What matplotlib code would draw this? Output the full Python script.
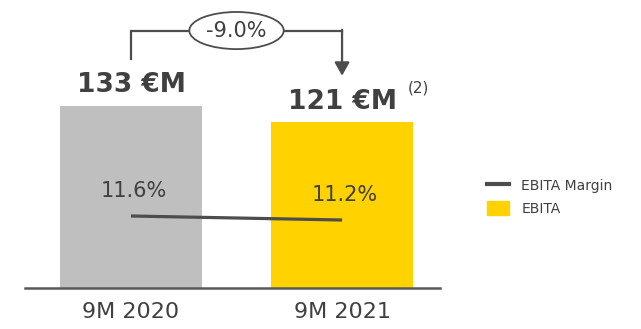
import matplotlib.pyplot as plt
import matplotlib.lines as mlines
import matplotlib.patches as mpatches

periods = ["9M 2020", "9M 2021"]
ebita = [133, 121]            # EUR millions
margin = [11.6, 11.2]         # EBITA margin, %
change_label = "-9.0%"

bar_colors = ["#BFBFBF", "#FFD200"]
line_color = "#4D4D4D"
text_color = "#404040"

fig = plt.figure(figsize=(6.41, 3.29), dpi=100)
ax = fig.add_axes([25 / 641, 41 / 329, 415 / 641, 278 / 329])
ax2 = ax.twinx()

x = list(range(len(periods)))
ax.bar(x, ebita, width=0.673, color=bar_colors, zorder=1)
ax.set_xlim(-0.502, 1.464)
ax.set_ylim(0, 203)

ax2.plot(x, margin, color=line_color, lw=2.3, solid_capstyle="butt", zorder=3)
ax2.set_ylim(4.4, 32.2)

for xi, m in zip(x, margin):
    ax2.annotate(f"{m:.1f}%", (xi, m), xytext=(2, 18), textcoords="offset points",
                 ha="center", va="center", fontsize=15, color=text_color)

# value labels above the bars
for xi, v in zip(x, ebita):
    ax.text(xi, v + 15, f"{v} €M", ha="center", va="center", fontsize=19,
            fontweight="bold", color=text_color)
ax.annotate("(2)", (1, ebita[1] + 15), xytext=(55, 10), textcoords="offset points",
            ha="center", va="center", fontsize=11, color=text_color)

# change bracket with arrow
y_top = ebita[0] + 55
ax.plot([0, 0, 1, 1], [ebita[0] + 34, y_top, y_top, y_top], color=line_color,
        lw=1.6, solid_joinstyle="miter", zorder=2)
ax.annotate("", xy=(1, ebita[1] + 34), xytext=(1, y_top + 0.6),
            arrowprops=dict(arrowstyle="-|>,head_length=0.8,head_width=0.45",
                            color=line_color, lw=1.6, shrinkA=0, shrinkB=0))
ax.text(0.5, y_top, change_label, ha="center", va="center", fontsize=15,
        color=text_color, zorder=4,
        bbox=dict(boxstyle="ellipse,pad=0.15", fc="white", ec=line_color, lw=1.3))

ax.set_xticks(x)
ax.set_xticklabels(periods, fontsize=16, color=text_color)
ax.tick_params(axis="x", length=0, pad=10)
ax.set_yticks([])
ax2.set_yticks([])
for a in (ax, ax2):
    for s in ("top", "right", "left"):
        a.spines[s].set_visible(False)
    a.spines["bottom"].set_visible(False)
ax.spines["bottom"].set_visible(True)
ax.spines["bottom"].set_color("#595959")
ax.spines["bottom"].set_linewidth(1.8)

handles = [mlines.Line2D([], [], color=line_color, lw=3),
           mpatches.Patch(color=bar_colors[1])]
fig.legend(handles, ["EBITA Margin", "EBITA"], loc="center left",
           bbox_to_anchor=(474 / 641, 1 - 197 / 329), frameon=False,
           fontsize=10, labelcolor=text_color, handlelength=1.6,
           handleheight=1.1, handletextpad=0.9, labelspacing=0.6)

fig.savefig("out.png", dpi=100)
